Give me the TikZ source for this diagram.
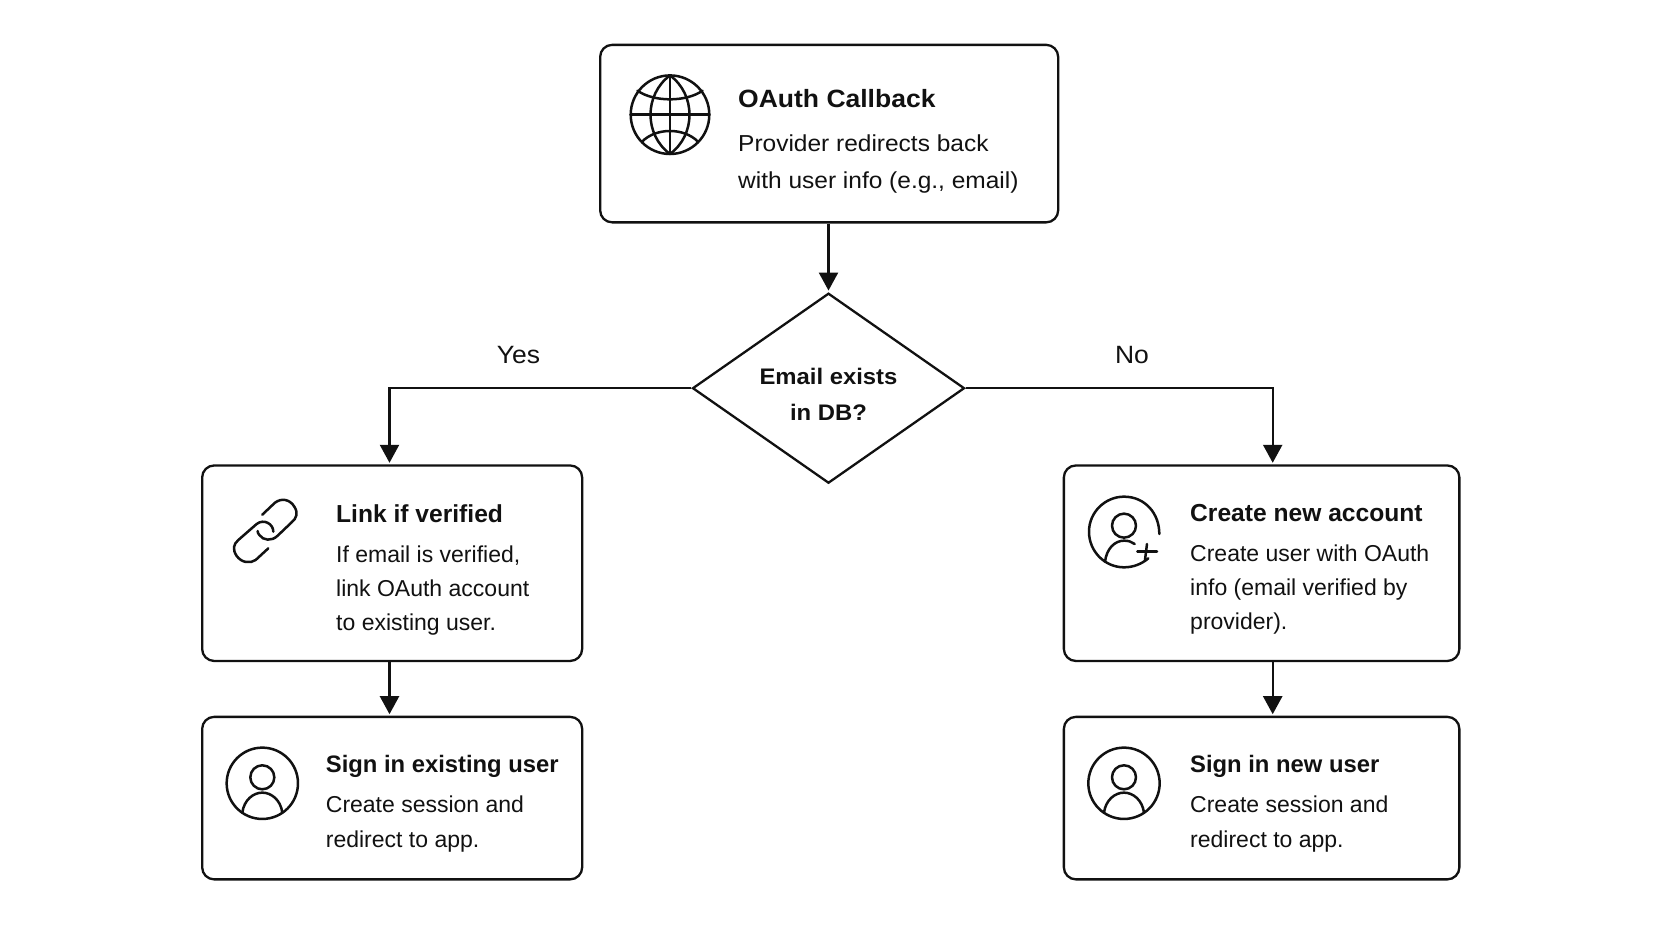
\documentclass[tikz,border=0pt]{standalone}
\usepackage{fontspec}
\setmainfont{Liberation Sans}
\newfontfamily\widefam{Liberation Sans}[FakeStretch=1.06]
\usetikzlibrary{shapes.geometric,arrows.meta,calc}
\definecolor{ink}{HTML}{111111}
\newcommand{\bodyfont}{\fontsize{23bp}{34.3bp}\selectfont}
\newcommand{\widebody}{\widefam\fontsize{23.1bp}{36.6bp}\selectfont}
\newcommand{\bodylines}[1]{\parbox[t]{340bp}{\bodyfont\raggedright #1}}
\newcommand{\widelines}[1]{\parbox[t]{340bp}{\widebody\raggedright #1}}
\tikzset{
  card/.style={draw=ink,line width=2.3bp,rounded corners=12bp,fill=white,inner sep=0pt,anchor=north west},
  decision/.style={draw=ink,line width=2.3bp,shape=diamond,inner sep=0pt,minimum width=272bp,minimum height=190bp,align=center,text=ink},
  flow/.style={draw=ink,line width=2.3bp,-{Triangle[width=19bp,length=18bp]},shorten >=1.5bp},
  titletext/.style={anchor=base west,inner sep=0pt,text=ink,font=\fontsize{24.6bp}{30bp}\selectfont\bfseries},
  titlenarrow/.style={anchor=base west,inner sep=0pt,text=ink,font=\fontsize{23.8bp}{30bp}\selectfont\bfseries},
  titlewide/.style={anchor=base west,inner sep=0pt,text=ink,font=\widefam\fontsize{25bp}{30bp}\selectfont\bfseries},
  bodytext/.style={anchor=base west,inner sep=0pt,text=ink},
  decisiontext/.style={anchor=base,inner sep=0pt,text=ink,font=\widefam\fontsize{22.5bp}{30bp}\selectfont\bfseries},
  branchlabel/.style={anchor=base,inner sep=0pt,text=ink,font=\widefam\fontsize{25bp}{30bp}\selectfont},
  icon/.style={draw=ink,line width=2.5bp,line cap=round,line join=round},
}
\begin{document}
\begin{tikzpicture}[x=1bp,y=-1bp]
\useasboundingbox (0,0) rectangle (1672,941);
% cards
\node[card,minimum width=458bp,minimum height=177.5bp] (callback) at (599,43.7) {};
\node[card,minimum width=380bp,minimum height=195.5bp] (link) at (201,464.3) {};
\node[card,minimum width=380bp,minimum height=162.5bp] (signold) at (201,715.7) {};
\node[card,minimum width=395.5bp,minimum height=195.5bp] (create) at (1062.7,464.3) {};
\node[card,minimum width=395.5bp,minimum height=162.5bp] (signnew) at (1062.7,715.7) {};
\node[decision] (exists) at (828.5,388.2) {};
% text
\node[decisiontext] (d1) at (828.5,384) {Email exists};
\node[decisiontext] (d2) at (828.5,420) {in DB?};
\node[titlewide] (t1) at (738,107.5) {OAuth Callback};
\node[bodytext] (b1) at (738,151.5) {\widelines{Provider redirects back\\with user info (e.g., email)}};
\node[titletext] (t2) at (336,522.5) {Link if verified};
\node[bodytext] (b2) at (336,562) {\bodylines{If email is verified,\\link OAuth account\\to existing user.}};
\node[titlenarrow] (t3) at (325.7,772.5) {Sign in existing user};
\node[bodytext] (b3) at (325.7,812.8) {\bodylines{Create session and\\redirect to app.}};
\node[titletext] (t4) at (1190,521) {Create new account};
\node[bodytext] (b4) at (1190,561) {\bodylines{Create user with OAuth\\info (email verified by\\provider).}};
\node[titlenarrow] (t5) at (1190,772.5) {Sign in new user};
\node[bodytext] (b5) at (1190,812.8) {\bodylines{Create session and\\redirect to app.}};
\node[branchlabel] (yes) at (518.5,363.7) {Yes};
\node[branchlabel] (no) at (1132,363.7) {No};
% connectors
\coordinate (yesin) at (389.5,464.3);
\coordinate (noin) at (1272.7,464.3);
\draw[flow] (callback.south -| exists.north) -- (exists.north);
\draw[flow] (exists.west) -| (yesin);
\draw[flow] (exists.east) -| (noin);
\draw[flow] (link.south -| yesin) -- (signold.north -| yesin);
\draw[flow] (create.south -| noin) -- (signnew.north -| noin);
% globe
\begin{scope}[shift={(670,114.7)}]
\draw[icon] (0,0) circle (39.3);
\draw[icon] (0,-39.3) .. controls (-26,-20) and (-26,20) .. (0,39.3) .. controls (26,20) and (26,-20) .. (0,-39.3);
\draw[icon] (0,-39.3) -- (0,39.3);
\draw[icon] (-39.3,0) -- (39.3,0);
\draw[icon] (-32.5,-24) .. controls (-16,-12.5) and (16,-12.5) .. (32.5,-24);
\draw[icon] (-28,27) .. controls (-14,12.7) and (14,12.7) .. (28,27);
\end{scope}
% chain link
\begin{scope}[shift={(190,450)},x=0.3333bp,y=-0.3333bp]
\draw[icon] (217,194) -- (255,158) .. controls (275,143) and (300,148) .. (313,170) .. controls (325,188) and (320,205) .. (305,217) -- (262,258) .. controls (245,274) and (220,272) .. (208,255) .. controls (204,250) and (203,247) .. (203,243);
\draw[icon] (235,295) -- (197,330) .. controls (180,342) and (155,338) .. (140,318) .. controls (127,298) and (130,283) .. (145,270) -- (200,222) .. controls (222,205) and (250,222) .. (250,245);
\end{scope}
% user, existing
\begin{scope}[shift={(190,450)},x=0.3333bp,y=-0.3333bp]
\draw[icon] (217,1000) circle (107);
\draw[icon] (217,982) circle (36);
\draw[icon] (157,1088) .. controls (162,1050) and (190,1028) .. (217,1028) .. controls (244,1028) and (272,1050) .. (277,1088);
\end{scope}
% user, new
\begin{scope}[shift={(1050,450)},x=0.3333bp,y=-0.3333bp]
\draw[icon] (222,1000) circle (107);
\draw[icon] (222,982) circle (36);
\draw[icon] (162,1088) .. controls (167,1050) and (195,1028) .. (222,1028) .. controls (249,1028) and (277,1050) .. (282,1088);
\end{scope}
% user plus
\begin{scope}[shift={(1050,450)},x=0.3333bp,y=-0.3333bp]
\draw[icon] (328,252) .. controls (328,190) and (285,140) .. (222,140) .. controls (165,140) and (117,187) .. (117,245) .. controls (117,305) and (165,352) .. (222,352) .. controls (250,352) and (275,342) .. (295,325);
\draw[icon] (222,227) circle (36);
\draw[icon] (165,335) .. controls (170,295) and (195,272) .. (222,272) .. controls (235,272) and (245,275) .. (254,282);
\draw[icon] (262,305) -- (321,305);
\draw[icon] (291,282) -- (285,330);
\end{scope}
\end{tikzpicture}
\end{document}
